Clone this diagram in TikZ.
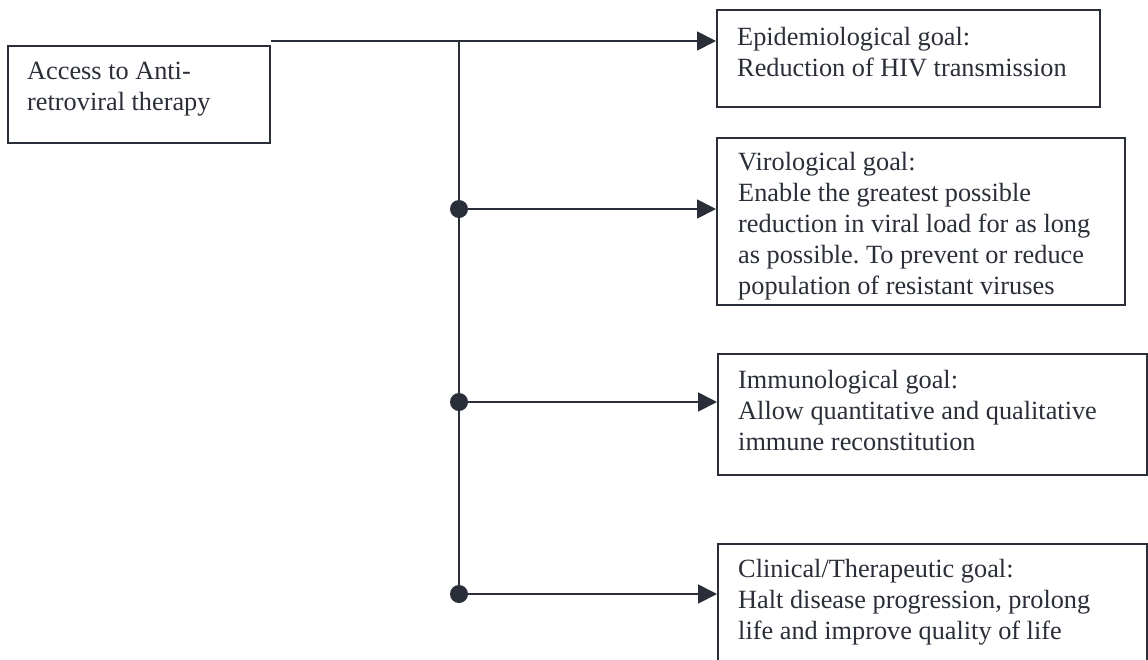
\documentclass[tikz,border=0pt]{standalone}
\usepackage{fontspec}
\setmainfont{Liberation Serif}
\usetikzlibrary{arrows.meta,calc}
\definecolor{ink}{RGB}{42,46,56}
\frenchspacing
\begin{document}
\begin{tikzpicture}[x=1pt,y=-1pt,
  box/.style={draw=ink, line width=1.6pt, inner sep=0pt, anchor=north west},
  txt/.style={anchor=north west, inner sep=0pt, align=left, text=ink, font=\fontsize{26.3}{31}\selectfont},
  conn/.style={draw=ink, line width=1.8pt},
  arr/.style={conn, -{Triangle[length=19pt,width=19pt]}},
  jdot/.style={circle, fill=ink, inner sep=0pt, minimum size=18pt}]
\clip (0,0) rectangle (1148,659);
\fill[white] (0,0) rectangle (1148,659);

% boxes
\node[box, minimum width=262pt, minimum height=97pt]  (L)  at (7,45)   {};
\node[box, minimum width=383pt, minimum height=97pt]  (b1) at (716,9)  {};
\node[box, minimum width=408pt, minimum height=167pt] (b2) at (716,137) {};
\node[box, minimum width=429pt, minimum height=121pt] (b3) at (717,353) {};
\node[box, minimum width=429pt, minimum height=140pt] (b4) at (717,543) {};

% texts
\node[txt] (Lt)  at (27,62)   {Access to Anti-\\retroviral therapy};
\node[txt] (b1t) at (737,27)  {Epidemiological goal:\\Reduction of HIV transmission};
\node[txt] (b2t) at (738,152) {Virological goal:\\Enable the greatest possible\\reduction in viral load for as long\\as possible. To prevent or reduce\\population of resistant viruses};
\node[txt] (b3t) at (738,370) {Immunological goal:\\Allow quantitative and qualitative\\immune reconstitution};
\node[txt] (b4t) at (738,559) {Clinical/Therapeutic goal:\\Halt disease progression, prolong\\life and improve quality of life};

% connectors
\coordinate (t0) at ($(L.north east)+(0,-4)$);
\coordinate (j0) at (459,41);
\coordinate (j1) at (459,209);
\coordinate (j2) at (459,402);
\coordinate (j3) at (459,594);
\draw[arr] (t0) -- (t0 -| b1.west);
\draw[conn] (j0) -- (j3);
\draw[arr] (j1) -- (j1 -| b2.west);
\draw[arr] (j2) -- (j2 -| b3.west);
\draw[arr] (j3) -- (j3 -| b4.west);
\node[jdot] (d1) at (j1) {};
\node[jdot] (d2) at (j2) {};
\node[jdot] (d3) at (j3) {};
\end{tikzpicture}
\end{document}
